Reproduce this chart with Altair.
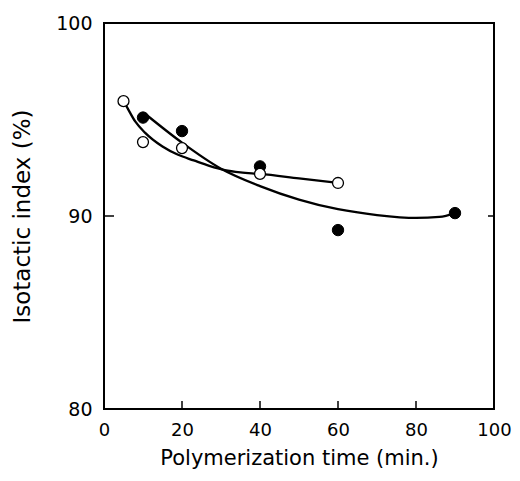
import altair as alt
import pandas as pd

# --- data ---
open_time = [5, 10, 20, 40, 60]
open_index = [95.95, 93.83, 93.52, 92.18, 91.71]

filled_time = [10, 20, 40, 60, 90]
filled_index = [95.1, 94.4, 92.57, 89.27, 90.15]

open_fit_time = [5, 6, 8, 10.5, 15, 19, 23, 27, 31, 35, 40, 50, 60]
open_fit_index = [95.95, 95.6, 94.9, 94.32, 93.6, 93.17, 92.88, 92.6, 92.38, 92.26, 92.18, 91.95, 91.72]

filled_fit_time = [11, 20, 30, 40, 50, 60, 70, 80, 86, 90]
filled_fit_index = [95.22, 93.8, 92.45, 91.55, 90.85, 90.35, 90.05, 89.9, 89.95, 90.15]

x_tick_labels = [0, 20, 40, 60, 80, 100]
y_tick_labels = [80, 90, 100]
x_inner_ticks = [20, 40, 60, 80]
y_inner_ticks = [90]

FONT = "DejaVu Sans"
W, H = 390, 386

xs = alt.Scale(domain=[0, 100], nice=False, zero=False)
ys = alt.Scale(domain=[80, 100], nice=False, zero=False)

x_axis = alt.Axis(values=x_tick_labels, ticks=False, domain=False, grid=False,
                  labelFont=FONT, labelFontSize=18, labelColor="black", labelPadding=12,
                  labelFlush=False,
                  title="Polymerization time (min.)", titleFont=FONT, titleFontSize=21,
                  titleFontWeight="normal", titleColor="black", titlePadding=8)
y_axis = alt.Axis(values=y_tick_labels, ticks=False, domain=False, grid=False,
                  labelFont=FONT, labelFontSize=19, labelColor="black", labelPadding=12,
                  labelFlush=False,
                  title="Isotactic index (%)", titleFont=FONT, titleFontSize=23,
                  titleFontWeight="normal", titleColor="black", titlePadding=21)


def X(field):
    return alt.X(f"{field}:Q", scale=xs, axis=x_axis)


def Y(field):
    return alt.Y(f"{field}:Q", scale=ys, axis=y_axis)


open_df = pd.DataFrame({"t": open_time, "v": open_index})
filled_df = pd.DataFrame({"t": filled_time, "v": filled_index})
open_fit_df = pd.DataFrame({"t": open_fit_time, "v": open_fit_index})
filled_fit_df = pd.DataFrame({"t": filled_fit_time, "v": filled_fit_index})
xt_df = pd.DataFrame({"t": x_inner_ticks})
yt_df = pd.DataFrame({"v": y_inner_ticks})

line_open = alt.Chart(open_fit_df).mark_line(
    color="black", strokeWidth=2.3, interpolate="monotone"
).encode(x=X("t"), y=Y("v"), order="t:Q")

line_filled = alt.Chart(filled_fit_df).mark_line(
    color="black", strokeWidth=2.3, interpolate="monotone"
).encode(x=X("t"), y=Y("v"), order="t:Q")

pts_filled = alt.Chart(filled_df).mark_point(
    shape="circle", filled=True, fill="black", stroke="black", strokeWidth=1, size=130, opacity=1
).encode(x=X("t"), y=Y("v"))

pts_open = alt.Chart(open_df).mark_point(
    shape="circle", filled=True, fill="white", stroke="black", strokeWidth=1.3, size=120, opacity=1
).encode(x=X("t"), y=Y("v"))

xticks = alt.Chart(xt_df).mark_rule(color="black", strokeWidth=1.5).encode(
    x=X("t"), y=alt.value(H), y2=alt.value(H - 8)
)
yticks_left = alt.Chart(yt_df).mark_rule(color="black", strokeWidth=1.5).encode(
    y=Y("v"), x=alt.value(0), x2=alt.value(10)
)
yticks_right = alt.Chart(yt_df).mark_rule(color="black", strokeWidth=1.5).encode(
    y=Y("v"), x=alt.value(W - 6), x2=alt.value(W)
)

chart = alt.layer(
    xticks, yticks_left, yticks_right, line_open, line_filled, pts_filled, pts_open
).properties(
    width=W, height=H,
    autosize=alt.AutoSizeParams(type="none"),
    padding={"left": 96, "top": 15, "right": 18, "bottom": 64},
    background="white",
).configure_view(
    stroke="black", strokeWidth=2, fill="white"
)

chart.save("out.html", embed_options={"renderer": "svg", "actions": False})
